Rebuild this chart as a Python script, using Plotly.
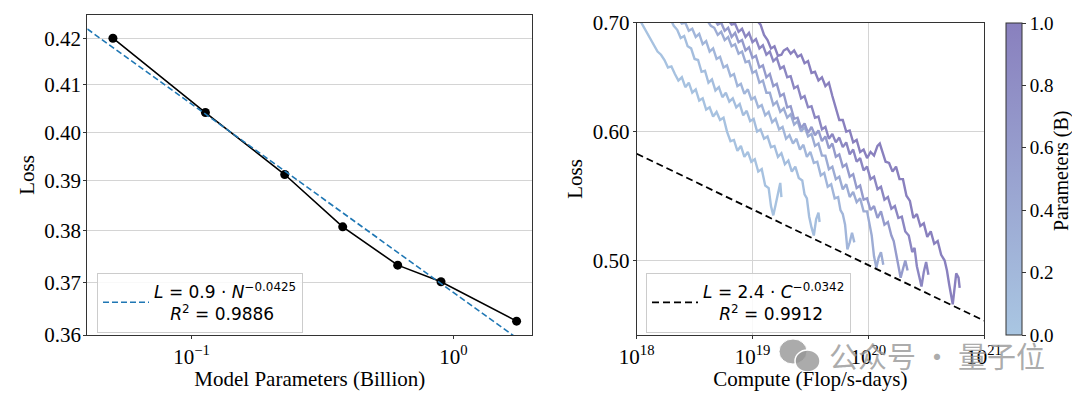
import numpy as np
import plotly.graph_objects as go

# The page body has an 8px margin, so the figure is 1064x383 and page pixel p maps to p-8.
PAGE_W, PAGE_H, OFF = 1080, 399, 8
W, H = PAGE_W - 2 * OFF, PAGE_H - 2 * OFF


def fx(p):
    return (p - OFF) / W


def fy(p):
    return 1 - (p - OFF) / H


# ---------------- data: left panel ----------------
model_params_b = [0.0501, 0.113, 0.227, 0.378, 0.613, 0.897, 1.744]
model_loss = [0.4200, 0.4041, 0.3913, 0.3808, 0.3733, 0.3701, 0.3626]
fit_n_coef = 0.888          # L = a * N^b (N = parameters), legend shows 0.9
fit_n_exp = -0.0425
fit_n_r2 = 0.9886

# ---------------- data: right panel ----------------
fit_c_coef = 2.4
fit_c_exp = -0.0342
fit_c_r2 = 0.9912

c1_logc = [18.03, 18.06, 18.09, 18.12, 18.15, 18.18, 18.21, 18.24, 18.27, 18.30, 18.33, 18.36, 18.39, 18.42,
           18.45, 18.48, 18.51, 18.54, 18.57, 18.60, 18.63, 18.66, 18.69, 18.72, 18.75, 18.78, 18.81, 18.84,
           18.87, 18.90, 18.93, 18.96, 18.99, 19.02, 19.05, 19.08, 19.11, 19.14, 19.16, 19.18, 19.20, 19.22,
           19.24, 19.25]
c1_loss = [0.702, 0.696, 0.690, 0.685, 0.678, 0.672, 0.669, 0.664, 0.657, 0.658, 0.651, 0.645, 0.648, 0.639,
           0.643, 0.634, 0.637, 0.627, 0.629, 0.619, 0.621, 0.613, 0.617, 0.610, 0.612, 0.600, 0.592, 0.593,
           0.584, 0.588, 0.579, 0.583, 0.575, 0.577, 0.567, 0.569, 0.556, 0.554, 0.540, 0.533, 0.541, 0.551,
           0.558, 0.547]

c2_logc = [18.29, 18.32, 18.35, 18.38, 18.41, 18.44, 18.47, 18.50, 18.53, 18.56, 18.59, 18.62, 18.65, 18.68,
           18.71, 18.74, 18.77, 18.80, 18.83, 18.86, 18.89, 18.92, 18.95, 18.98, 19.01, 19.04, 19.07, 19.10,
           19.13, 19.16, 19.19, 19.22, 19.25, 19.28, 19.31, 19.34, 19.37, 19.40, 19.43, 19.45, 19.47, 19.49,
           19.51, 19.53, 19.55, 19.57, 19.58]
c2_loss = [0.704, 0.697, 0.693, 0.685, 0.687, 0.677, 0.675, 0.665, 0.664, 0.653, 0.654, 0.643, 0.646, 0.636,
           0.639, 0.630, 0.634, 0.626, 0.629, 0.621, 0.624, 0.614, 0.618, 0.609, 0.611, 0.600, 0.602, 0.594,
           0.596, 0.587, 0.588, 0.579, 0.582, 0.573, 0.576, 0.567, 0.571, 0.562, 0.560, 0.549, 0.546, 0.532,
           0.524, 0.518, 0.530, 0.535, 0.528]

c3_logc = [18.36, 18.39, 18.42, 18.45, 18.48, 18.51, 18.54, 18.57, 18.60, 18.63, 18.66, 18.69, 18.72, 18.75,
           18.78, 18.81, 18.84, 18.87, 18.90, 18.93, 18.96, 18.99, 19.02, 19.05, 19.08, 19.11, 19.14, 19.17,
           19.20, 19.23, 19.26, 19.29, 19.32, 19.35, 19.38, 19.41, 19.44, 19.47, 19.50, 19.53, 19.56, 19.59,
           19.62, 19.65, 19.68, 19.71, 19.74, 19.76, 19.78, 19.80, 19.82, 19.84, 19.86, 19.88]
c3_loss = [0.704, 0.699, 0.700, 0.692, 0.694, 0.686, 0.689, 0.679, 0.682, 0.672, 0.675, 0.665, 0.667, 0.657,
           0.659, 0.649, 0.651, 0.640, 0.642, 0.633, 0.637, 0.628, 0.630, 0.621, 0.623, 0.614, 0.617, 0.608,
           0.611, 0.602, 0.604, 0.594, 0.597, 0.590, 0.594, 0.585, 0.589, 0.579, 0.583, 0.574, 0.575, 0.564,
           0.566, 0.555, 0.557, 0.546, 0.547, 0.537, 0.534, 0.526, 0.508, 0.513, 0.520, 0.513]

c4_logc = [18.61, 18.64, 18.67, 18.70, 18.73, 18.76, 18.79, 18.82, 18.85, 18.88, 18.91, 18.94, 18.97, 19.00,
           19.03, 19.06, 19.09, 19.12, 19.15, 19.18, 19.21, 19.24, 19.27, 19.30, 19.33, 19.36, 19.39, 19.42,
           19.45, 19.48, 19.51, 19.54, 19.57, 19.60, 19.63, 19.66, 19.69, 19.72, 19.75, 19.78, 19.81, 19.84,
           19.87, 19.90, 19.93, 19.96, 19.99, 20.01, 20.03, 20.05, 20.07, 20.09, 20.11, 20.13]
c4_loss = [0.702, 0.697, 0.695, 0.688, 0.691, 0.683, 0.686, 0.677, 0.679, 0.670, 0.672, 0.662, 0.663, 0.652,
           0.654, 0.643, 0.645, 0.634, 0.634, 0.623, 0.626, 0.617, 0.620, 0.612, 0.615, 0.606, 0.609, 0.600,
           0.604, 0.596, 0.598, 0.588, 0.590, 0.580, 0.580, 0.569, 0.571, 0.561, 0.563, 0.553, 0.557, 0.547,
           0.551, 0.543, 0.546, 0.536, 0.536, 0.527, 0.518, 0.503, 0.495, 0.502, 0.506, 0.497]

c5_logc = [18.67, 18.70, 18.73, 18.76, 18.79, 18.82, 18.85, 18.88, 18.91, 18.94, 18.97, 19.00, 19.03, 19.06,
           19.09, 19.12, 19.15, 19.18, 19.21, 19.24, 19.27, 19.30, 19.33, 19.36, 19.39, 19.42, 19.45, 19.48,
           19.51, 19.54, 19.57, 19.60, 19.63, 19.66, 19.69, 19.72, 19.75, 19.78, 19.81, 19.84, 19.87, 19.90,
           19.93, 19.96, 19.99, 20.02, 20.05, 20.08, 20.11, 20.14, 20.17, 20.20, 20.22, 20.24, 20.26, 20.28,
           20.30, 20.32, 20.34]
c5_loss = [0.704, 0.698, 0.700, 0.692, 0.695, 0.686, 0.690, 0.681, 0.683, 0.673, 0.676, 0.666, 0.668, 0.657,
           0.659, 0.648, 0.651, 0.640, 0.642, 0.631, 0.633, 0.621, 0.622, 0.611, 0.612, 0.603, 0.607, 0.599,
           0.604, 0.597, 0.601, 0.592, 0.596, 0.586, 0.590, 0.579, 0.581, 0.571, 0.573, 0.563, 0.565, 0.554,
           0.556, 0.545, 0.546, 0.537, 0.540, 0.531, 0.536, 0.526, 0.528, 0.518, 0.514, 0.505, 0.497, 0.488,
           0.494, 0.500, 0.493]

c6_logc = [18.79, 18.82, 18.85, 18.88, 18.91, 18.94, 18.97, 19.00, 19.03, 19.06, 19.09, 19.12, 19.15, 19.18,
           19.21, 19.24, 19.27, 19.30, 19.33, 19.36, 19.39, 19.42, 19.45, 19.48, 19.51, 19.54, 19.57, 19.60,
           19.63, 19.66, 19.69, 19.72, 19.75, 19.78, 19.81, 19.84, 19.87, 19.90, 19.93, 19.96, 19.99, 20.02,
           20.05, 20.08, 20.11, 20.14, 20.17, 20.20, 20.23, 20.26, 20.29, 20.32, 20.35, 20.38, 20.40, 20.42,
           20.44, 20.46, 20.48, 20.50, 20.52]
c6_loss = [0.703, 0.698, 0.699, 0.691, 0.694, 0.686, 0.690, 0.681, 0.684, 0.675, 0.678, 0.669, 0.672, 0.663,
           0.666, 0.656, 0.658, 0.648, 0.649, 0.638, 0.640, 0.629, 0.631, 0.621, 0.622, 0.612, 0.613, 0.602,
           0.604, 0.594, 0.598, 0.591, 0.595, 0.587, 0.591, 0.581, 0.585, 0.575, 0.578, 0.568, 0.571, 0.561,
           0.563, 0.553, 0.555, 0.545, 0.547, 0.538, 0.540, 0.531, 0.532, 0.521, 0.518, 0.506, 0.509, 0.496,
           0.489, 0.482, 0.492, 0.499, 0.490]

c7_logc = [19.04, 19.07, 19.10, 19.13, 19.16, 19.19, 19.22, 19.25, 19.27, 19.30, 19.33, 19.36, 19.39, 19.42,
           19.45, 19.48, 19.51, 19.54, 19.57, 19.60, 19.63, 19.66, 19.69, 19.72, 19.75, 19.78, 19.81, 19.84,
           19.87, 19.90, 19.93, 19.96, 19.99, 20.02, 20.05, 20.08, 20.10, 20.12, 20.15, 20.18, 20.21, 20.24,
           20.27, 20.30, 20.33, 20.36, 20.39, 20.42, 20.45, 20.48, 20.51, 20.54, 20.57, 20.60, 20.63, 20.66,
           20.68, 20.70, 20.72, 20.73, 20.76, 20.78, 20.79]
c7_loss = [0.702, 0.698, 0.688, 0.683, 0.675, 0.677, 0.668, 0.669, 0.673, 0.675, 0.670, 0.673, 0.667, 0.669,
           0.661, 0.663, 0.652, 0.653, 0.645, 0.648, 0.640, 0.643, 0.631, 0.620, 0.610, 0.610, 0.600, 0.601,
           0.591, 0.593, 0.583, 0.585, 0.578, 0.583, 0.580, 0.588, 0.590, 0.584, 0.575, 0.574, 0.567, 0.571,
           0.561, 0.561, 0.548, 0.544, 0.531, 0.534, 0.525, 0.527, 0.517, 0.521, 0.512, 0.514, 0.504, 0.500,
           0.493, 0.483, 0.474, 0.470, 0.491, 0.488, 0.481]

curves_logc = [c1_logc, c2_logc, c3_logc, c4_logc, c5_logc, c6_logc, c7_logc]
curves_loss = [c1_loss, c2_loss, c3_loss, c4_loss, c5_loss, c6_loss, c7_loss]

left_yticks = [0.36, 0.37, 0.38, 0.39, 0.40, 0.41, 0.42]
right_yticks = [0.50, 0.60, 0.70]
right_xticks = [1e18, 1e19, 1e20, 1e21]
cbar_ticks = [0.0, 0.2, 0.4, 0.6, 0.8, 1.0]

# ---------------- styling ----------------
SERIF = "Liberation Serif, Times New Roman, serif"
SANS = "DejaVu Sans, sans-serif"
AX = "#333333"
GRID = "#d4d4d4"
C_LOW = (169, 198, 226)
C_HIGH = (137, 128, 190)
colorscale = [[0.0, "rgb(%d,%d,%d)" % C_LOW], [1.0, "rgb(%d,%d,%d)" % C_HIGH]]


def cmap(t):
    t = min(max(t, 0.0), 1.0)
    return "rgb(%d,%d,%d)" % tuple(round(a + (b - a) * t) for a, b in zip(C_LOW, C_HIGH))


# panel geometry (page pixels of the reference)
L_X0, L_X1, L_Y0, L_Y1 = 87.3, 532.3, 15, 335
R_X0, R_X1, R_Y0, R_Y1 = 636.7, 984, 22.7, 335
left_xrange = [-1.398, 0.3015]
left_yrange = [np.log10(0.36), np.log10(0.4251)]
right_xrange = [18, 21]
right_yrange = [np.log10(0.45), np.log10(0.70)]

fig = go.Figure()

# ---------------- left panel ----------------
fig.add_trace(go.Scatter(
    x=model_params_b, y=model_loss, mode="lines+markers",
    line=dict(color="black", width=1.6), marker=dict(size=9, color="black"),
    showlegend=False, xaxis="x", yaxis="y"))

fit_n = 10 ** np.array(left_xrange)
fig.add_trace(go.Scatter(
    x=fit_n, y=fit_n_coef * (fit_n * 1e9) ** fit_n_exp, mode="lines",
    line=dict(color="#1f77b4", width=1.6, dash="6px,3px"),
    name=("<i>L</i> = 0.9 · <i>N</i><sup>−0.0425</sup><br>"
          "&nbsp;&nbsp;&nbsp;<i>R</i><sup>2</sup> = %.4f" % fit_n_r2),
    legend="legend", xaxis="x", yaxis="y"))

# ---------------- right panel ----------------
for p, lc, ls in zip(model_params_b, curves_logc, curves_loss):
    fig.add_trace(go.Scatter(
        x=10 ** np.array(lc), y=ls, mode="lines",
        line=dict(color=cmap(p), width=2.4),
        showlegend=False, xaxis="x2", yaxis="y2", hoverinfo="skip"))

fit_c = 10.0 ** np.array(right_xrange)
fig.add_trace(go.Scatter(
    x=fit_c, y=fit_c_coef * fit_c ** fit_c_exp, mode="lines",
    line=dict(color="black", width=1.8, dash="7px,4px"),
    name=("<i>L</i> = 2.4 · <i>C</i><sup>−0.0342</sup><br>"
          "&nbsp;&nbsp;&nbsp;<i>R</i><sup>2</sup> = %.4f" % fit_c_r2),
    legend="legend2", xaxis="x2", yaxis="y2"))

# colorbar carrier
fig.add_trace(go.Scatter(
    x=[None], y=[None], mode="markers", showlegend=False, hoverinfo="skip",
    xaxis="x2", yaxis="y2",
    marker=dict(color=[0.0], colorscale=colorscale, cmin=0, cmax=1, showscale=True,
                colorbar=dict(
                    x=fx(1006), xanchor="left", y=fy(R_Y1), yanchor="bottom",
                    len=(R_Y1 - R_Y0) / H, lenmode="fraction", thickness=16,
                    xpad=0, ypad=0, outlinewidth=1, outlinecolor=AX,
                    ticks="outside", ticklen=4, tickcolor=AX,
                    tickvals=cbar_ticks, ticktext=["%.1f" % v for v in cbar_ticks],
                    tickfont=dict(family=SERIF, size=19, color="black")))))

# colorbar title, placed like the reference
fig.add_annotation(x=fx(1061), y=fy(171), xref="paper", yref="paper", showarrow=False,
                   text="Parameters (B)", textangle=-90, xanchor="center", yanchor="middle",
                   font=dict(family=SERIF, size=20, color="black"))

axis_common = dict(showline=True, mirror=True, linecolor=AX, linewidth=1, ticks="outside",
                   ticklen=3, tickcolor=AX, zeroline=False, automargin=False,
                   tickfont=dict(family=SERIF, size=21, color="black"))

fig.update_layout(
    width=W, height=H, margin=dict(l=0, r=0, t=0, b=0),
    plot_bgcolor="white", paper_bgcolor="white",
    xaxis=dict(axis_common, type="log", domain=[fx(L_X0), fx(L_X1)], range=left_xrange,
               tickvals=[0.1, 1.0], ticktext=["10<sup>−1</sup>", "10<sup>0</sup>"],
               showgrid=False, anchor="y",
               title=dict(text="Model Parameters (Billion)", standoff=6,
                          font=dict(family=SERIF, size=21, color="black"))),
    yaxis=dict(axis_common, type="log", domain=[fy(L_Y1), fy(L_Y0)], range=left_yrange,
               tickvals=left_yticks, ticktext=["%.2f" % v for v in left_yticks],
               ticklabelstandoff=-2,
               showgrid=True, gridcolor=GRID, gridwidth=1, anchor="x",
               title=dict(text="Loss", standoff=3,
                          font=dict(family=SERIF, size=21, color="black"))),
    xaxis2=dict(axis_common, type="log", domain=[fx(R_X0), fx(R_X1)], range=right_xrange,
                tickvals=right_xticks, ticktext=["10<sup>18</sup>", "10<sup>19</sup>",
                                                 "10<sup>20</sup>", "10<sup>21</sup>"],
                showgrid=True, gridcolor=GRID, gridwidth=1, anchor="y2",
                title=dict(text="Compute (Flop/s-days)", standoff=6,
                           font=dict(family=SERIF, size=21, color="black"))),
    yaxis2=dict(axis_common, type="log", domain=[fy(R_Y1), fy(R_Y0)], range=right_yrange,
                tickvals=right_yticks, ticktext=["%.2f" % v for v in right_yticks],
                ticklabelstandoff=-1,
                showgrid=True, gridcolor=GRID, gridwidth=1, anchor="x2",
                title=dict(text="Loss", standoff=4,
                           font=dict(family=SERIF, size=21, color="black"))),
    legend=dict(x=fx(97), y=fy(272.7), xanchor="left", yanchor="top",
                bgcolor="rgba(255,255,255,0.85)", bordercolor="#cccccc", borderwidth=1,
                font=dict(family=SANS, size=17, color="black"), itemwidth=46, valign="middle"),
    legend2=dict(x=fx(646), y=fy(272.7), xanchor="left", yanchor="top",
                 bgcolor="rgba(255,255,255,0.85)", bordercolor="#cccccc", borderwidth=1,
                 font=dict(family=SANS, size=17, color="black"), itemwidth=46, valign="middle"),
    showlegend=True,
)

# watermark seen in the reference
fig.add_annotation(x=fx(937), y=fy(355), xref="paper", yref="paper", showarrow=False,
                   xanchor="center", yanchor="middle",
                   text="公众号 · 量子位",
                   font=dict(family="Noto Sans CJK SC", size=29, color="rgba(150,150,150,0.8)"))
fig.add_shape(type="circle", xref="paper", yref="paper",
              x0=fx(779), x1=fx(807), y0=fy(364), y1=fy(339),
              fillcolor="rgba(150,150,150,0.8)", line=dict(color="white", width=1))
fig.add_shape(type="circle", xref="paper", yref="paper",
              x0=fx(795), x1=fx(820), y0=fy(372), y1=fy(350),
              fillcolor="rgba(150,150,150,0.8)", line=dict(color="white", width=1.5))

fig.write_html("out.html")
